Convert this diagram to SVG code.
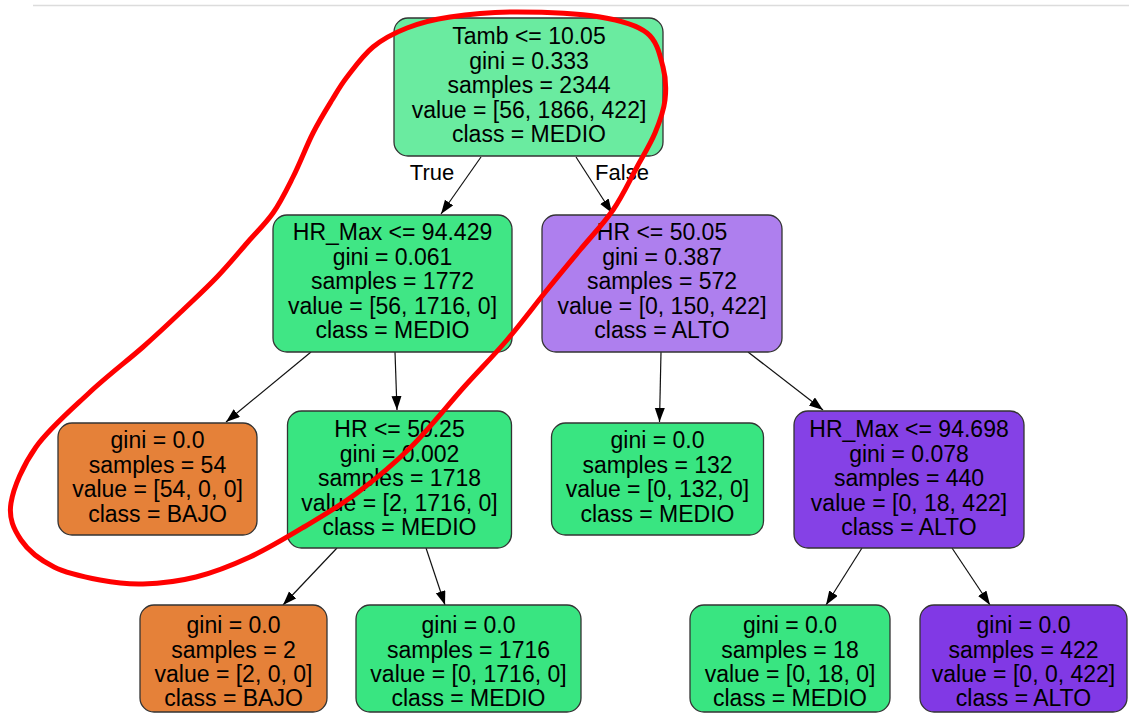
<svg xmlns="http://www.w3.org/2000/svg" width="1129" height="713" viewBox="0 0 1129 713">
  <style>
    .node rect { stroke: #333; stroke-width: 1.3; }
    .node text, .elabel { font-family: "Liberation Sans", Arial, sans-serif; font-size: 23px; fill: #000; text-anchor: middle; }
    .elabel { font-size: 22px; }
    .edge { stroke: #111; stroke-width: 1.2; fill: none; marker-end: url(#arrow); }
    .g1 { fill: #6aeba0; }
    .g2 { fill: #40e685; }
    .g3 { fill: #39e581; }
    .p1 { fill: #ae7fee; }
    .p2 { fill: #8541e6; }
    .p3 { fill: #8139e5; }
    .o3 { fill: #e58139; }
  </style>
  <defs>
    <marker id="arrow" markerUnits="userSpaceOnUse" markerWidth="15" markerHeight="12" refX="14" refY="5" orient="auto">
      <path d="M0,0 L14,5 L0,10 z" fill="#000"/>
    </marker>
  </defs>

  <rect width="1129" height="713" fill="#fff"/>
  <line x1="33" y1="5.5" x2="1129" y2="5.5" stroke="#dcdcdc" stroke-width="1.5"/>

  <!-- connectors -->
  <g id="connectors">
    <line class="edge" x1="481" y1="157" x2="441" y2="214"/>
    <line class="edge" x1="576" y1="157" x2="612" y2="213"/>
    <line class="edge" x1="311" y1="352" x2="226" y2="422"/>
    <line class="edge" x1="395" y1="352" x2="397" y2="410"/>
    <line class="edge" x1="661" y1="352" x2="659.5" y2="422"/>
    <line class="edge" x1="748" y1="352" x2="823" y2="410"/>
    <line class="edge" x1="337" y1="548" x2="283" y2="605"/>
    <line class="edge" x1="426" y1="548" x2="445" y2="605"/>
    <line class="edge" x1="862" y1="548" x2="826" y2="605"/>
    <line class="edge" x1="952" y1="548" x2="990" y2="605"/>
    <text class="elabel" x="432" y="180">True</text>
    <text class="elabel" x="622" y="180">False</text>
  </g>

  <g id="n0" class="node">
    <rect class="g1" x="394" y="18" width="269" height="138" rx="14"/>
    <text x="529" y="44">Tamb &lt;= 10.05</text>
    <text x="529" y="68.5">gini = 0.333</text>
    <text x="529" y="93">samples = 2344</text>
    <text x="529" y="117.5">value = [56, 1866, 422]</text>
    <text x="529" y="142">class = MEDIO</text>
  </g>

  <g id="n1" class="node">
    <rect class="g2" x="273" y="215" width="239" height="137" rx="14"/>
    <text x="392.5" y="240">HR_Max &lt;= 94.429</text>
    <text x="392.5" y="264.5">gini = 0.061</text>
    <text x="392.5" y="289">samples = 1772</text>
    <text x="392.5" y="313.5">value = [56, 1716, 0]</text>
    <text x="392.5" y="338">class = MEDIO</text>
  </g>

  <g id="n2" class="node">
    <rect class="o3" x="58" y="423" width="199" height="112" rx="14"/>
    <text x="157.5" y="448">gini = 0.0</text>
    <text x="157.5" y="472.5">samples = 54</text>
    <text x="157.5" y="497">value = [54, 0, 0]</text>
    <text x="157.5" y="521.5">class = BAJO</text>
  </g>

  <g id="n3" class="node">
    <rect class="g3" x="287.5" y="411" width="224" height="137" rx="14"/>
    <text x="399.5" y="437">HR &lt;= 50.25</text>
    <text x="399.5" y="461.5">gini = 0.002</text>
    <text x="399.5" y="486">samples = 1718</text>
    <text x="399.5" y="510.5">value = [2, 1716, 0]</text>
    <text x="399.5" y="535">class = MEDIO</text>
  </g>

  <g id="n4" class="node">
    <rect class="o3" x="140" y="605" width="187" height="107" rx="14"/>
    <text x="233.5" y="633">gini = 0.0</text>
    <text x="233.5" y="657.5">samples = 2</text>
    <text x="233.5" y="682">value = [2, 0, 0]</text>
    <text x="233.5" y="706">class = BAJO</text>
  </g>

  <g id="n5" class="node">
    <rect class="g3" x="356" y="605" width="225" height="107" rx="14"/>
    <text x="468.5" y="633">gini = 0.0</text>
    <text x="468.5" y="657.5">samples = 1716</text>
    <text x="468.5" y="682">value = [0, 1716, 0]</text>
    <text x="468.5" y="706">class = MEDIO</text>
  </g>

  <g id="n6" class="node">
    <rect class="p1" x="542" y="215" width="240" height="137" rx="14"/>
    <text x="662" y="240">HR &lt;= 50.05</text>
    <text x="662" y="264.5">gini = 0.387</text>
    <text x="662" y="289">samples = 572</text>
    <text x="662" y="313.5">value = [0, 150, 422]</text>
    <text x="662" y="338">class = ALTO</text>
  </g>

  <g id="n7" class="node">
    <rect class="g3" x="551.5" y="423" width="212" height="112" rx="14"/>
    <text x="657.5" y="448">gini = 0.0</text>
    <text x="657.5" y="472.5">samples = 132</text>
    <text x="657.5" y="497">value = [0, 132, 0]</text>
    <text x="657.5" y="521.5">class = MEDIO</text>
  </g>

  <g id="n8" class="node">
    <rect class="p2" x="794" y="411" width="230" height="137" rx="14"/>
    <text x="909" y="437">HR_Max &lt;= 94.698</text>
    <text x="909" y="461.5">gini = 0.078</text>
    <text x="909" y="486">samples = 440</text>
    <text x="909" y="510.5">value = [0, 18, 422]</text>
    <text x="909" y="535">class = ALTO</text>
  </g>

  <g id="n9" class="node">
    <rect class="g3" x="690" y="605" width="200" height="107" rx="14"/>
    <text x="790" y="633">gini = 0.0</text>
    <text x="790" y="657.5">samples = 18</text>
    <text x="790" y="682">value = [0, 18, 0]</text>
    <text x="790" y="706">class = MEDIO</text>
  </g>

  <g id="n10" class="node">
    <rect class="p3" x="920" y="605" width="207" height="107" rx="14"/>
    <text x="1023.5" y="633">gini = 0.0</text>
    <text x="1023.5" y="657.5">samples = 422</text>
    <text x="1023.5" y="682">value = [0, 0, 422]</text>
    <text x="1023.5" y="706">class = ALTO</text>
  </g>

  <!-- hand-drawn highlight loop around the left branch -->
  <path id="highlight" fill="none" stroke="#ff0000" stroke-width="5" stroke-linejoin="round"
    d="M517,12 C542,12 578.3,13.5 600,17 C621.7,20.5 636.5,24.7 647,33 C657.5,41.3 660,55.8 663,67
       C666,78.2 666.3,89 665,100 C663.7,111 659.7,121.8 655,133 C650.3,144.2 644,154.2 637,167
       C630,179.8 622.5,196.2 613,210 C603.5,223.8 591,236.7 580,250 C569,263.3 559.2,275 547,290
       C534.8,305 520.8,323.8 507,340 C493.2,356.2 480,369.2 464,387 C448,404.8 428.8,429.3 411,447
       C393.2,464.7 374.8,479.7 357,493 C339.2,506.3 321.8,516.3 304,527 C286.2,537.7 268,548.7 250,557
       C232,565.3 213.8,572.5 196,577 C178.2,581.5 159,583.5 143,584 C127,584.5 114.8,582.8 100,580
       C85.2,577.2 67.2,573.7 54,567 C40.8,560.3 28.2,550.7 21,540 C13.8,529.3 8.5,518.5 11,503
       C13.5,487.5 23,465.3 36,447 C49,428.7 71.2,409.7 89,393 C106.8,376.3 127.3,360.8 143,347
       C158.7,333.2 170.7,321.7 183,310 C195.3,298.3 206.3,288.2 217,277 C227.7,265.8 237.7,253.7 247,243
       C256.3,232.3 265.3,224 273,213 C280.7,202 286.3,190.3 293,177 C299.7,163.7 306.5,145.8 313,133
       C319.5,120.2 326.3,109.3 332,100 C337.7,90.7 340.2,85.8 347,77 C353.8,68.2 363,55.2 373,47
       C383,38.8 394.2,33 407,28 C419.8,23 431.7,19.7 450,17 C468.3,14.3 492,12 517,12 Z"/>
</svg>
